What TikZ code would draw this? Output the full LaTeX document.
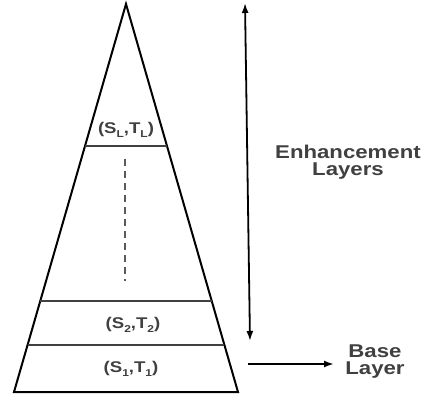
\documentclass[tikz,border=0pt]{standalone}
\usepackage{fontspec}
\setmainfont{Liberation Sans}
\usepackage{tikz}
\usetikzlibrary{calc,arrows.meta,positioning}
\definecolor{txtgray}{HTML}{404040}
\newcommand{\lsub}[1]{\raisebox{-0.5ex}{\fontsize{10}{10}\selectfont #1}}
\tikzset{
  edgeline/.style={draw=black, line width=2pt},
  layerline/.style={draw=black!75, line width=2pt},
  dotline/.style={draw=black!65, line width=1.3pt, dash pattern=on 7pt off 5pt},
  lbl/.style={font=\fontsize{15.5}{16}\selectfont\bfseries, text=txtgray, inner sep=0pt, xscale=1.2, transform shape},
  side/.style={font=\fontsize{18.5}{17}\selectfont\bfseries, text=txtgray, align=center, inner sep=0pt, xscale=1.2, transform shape},
  arr/.style={-{Latex[length=10pt,width=7pt]}, line width=1.8pt},
  darr/.style={{Latex[length=10pt,width=7pt]}-{Latex[length=10pt,width=7pt]}, line width=1.8pt}
}

\begin{document}
\begin{tikzpicture}[x=1pt, y=-1pt]
  \useasboundingbox (0,0) rectangle (428,401);

  % pyramid
  \coordinate (apex) at (126,4);
  \coordinate (bl) at (14,392);
  \coordinate (br) at (238,392);
  \draw[edgeline, line join=miter] (bl) -- (apex) -- (br) -- cycle;

  % layer boundaries
  \coordinate (lL) at ($(apex)!0.365!(bl)$);
  \coordinate (rL) at ($(apex)!0.365!(br)$);
  \coordinate (l2) at ($(apex)!0.766!(bl)$);
  \coordinate (r2) at ($(apex)!0.766!(br)$);
  \coordinate (l1) at ($(apex)!0.879!(bl)$);
  \coordinate (r1) at ($(apex)!0.879!(br)$);
  \draw[layerline] (lL) -- (rL);
  \draw[layerline] (l2) -- (r2);
  \draw[layerline] (l1) -- (r1);

  \coordinate (dtop) at (125,159);
  \coordinate (dbot) at (125,281);
  \draw[dotline] (dtop) -- (dbot);

  \node[lbl] (sL) at (126,130) {(S\lsub{L},T\lsub{L})};
  \node[lbl] (s2) at (133,325) {(S\lsub{2},T\lsub{2})};
  \node[lbl] (s1) at (131,369) {(S\lsub{1},T\lsub{1})};

  % right side
  \coordinate (etop) at (245,3);
  \coordinate (ebot) at (250,341);
  \draw[darr] (etop) -- (ebot);
  \node[side] (enh) at (348,162) {Enhancement\\Layers};

  \coordinate (bstart) at (248,364);
  \coordinate (bend) at (334,364);
  \draw[arr] (bstart) -- (bend);
  \node[side] (base) at (375,362) {Base\\Layer};
\end{tikzpicture}
\end{document}
